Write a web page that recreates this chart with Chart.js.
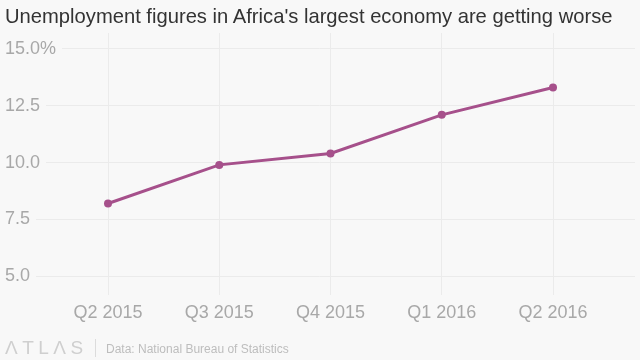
<!DOCTYPE html>
<html>
<head>
<meta charset="utf-8">
<script src="https://cdn.jsdelivr.net/npm/chart.js@4/dist/chart.umd.min.js"></script>
<style>
  html, body { margin: 0; padding: 0; background: #f8f8f8; }
  #wrap { position: relative; width: 640px; height: 360px; overflow: hidden; background: #f8f8f8; }
  #chartBox { position: absolute; left: 0; top: 0; width: 640px; height: 360px; }
  #title { position: absolute; left: 5px; top: 4px; font-family: "Liberation Sans", Arial, sans-serif; font-size: 20.2px; line-height: 24px; color: #333; white-space: nowrap; }
  #logo { position: absolute; left: 5px; top: 338px; font-family: "Liberation Sans", Arial, sans-serif; font-size: 19px; line-height: 20px; color: #cfcfcf; letter-spacing: 4.5px; white-space: nowrap; }
  #sep { position: absolute; left: 95px; top: 339px; width: 1px; height: 18px; background: #dcdcdc; }
  #source { position: absolute; left: 106px; top: 342px; font-family: "Liberation Sans", Arial, sans-serif; font-size: 12px; line-height: 14px; color: #bdbdbd; white-space: nowrap; }
</style>
</head>
<body>
<div id="wrap">
  <div id="chartBox"><canvas id="c"></canvas></div>
  <div id="title">Unemployment figures in Africa's largest economy are getting worse</div>
  <div id="logo">ΛTLΛS</div>
  <div id="sep"></div>
  <div id="source">Data: National Bureau of Statistics</div>
</div>
<script>
const categories = ["Q2 2015", "Q3 2015", "Q4 2015", "Q1 2016", "Q2 2016"];
const unemploymentRate = [8.2, 9.9, 10.4, 12.1, 13.3];
const yTickValues = [5, 7.5, 10, 12.5, 15];

const BG = '#f8f8f8';
const GRID = '#ebebeb';
const TICK = '#a8a8a8';
const LINE = '#a6508b';

new Chart(document.getElementById('c'), {
  type: 'line',
  data: {
    datasets: [{
      data: unemploymentRate.map((v, i) => ({ x: i, y: v })),
      borderColor: LINE,
      backgroundColor: LINE,
      borderWidth: 3,
      pointRadius: 4,
      pointHoverRadius: 4,
      pointBorderWidth: 0,
      pointBackgroundColor: LINE,
      tension: 0,
      fill: false
    }]
  },
  options: {
    responsive: true,
    maintainAspectRatio: false,
    animation: false,
    events: [],
    layout: { padding: { left: 0, right: 5, top: 33, bottom: 29 } },
    plugins: { legend: { display: false }, title: { display: false }, tooltip: { enabled: false } },
    scales: {
      x: {
        type: 'linear',
        min: -0.935,
        max: 4.737,
        afterBuildTicks: (s) => { s.ticks = categories.map((c, i) => ({ value: i })); },
        grid: { color: GRID, lineWidth: 1, drawTicks: false },
        border: { display: false },
        ticks: {
          padding: 7,
          maxRotation: 0,
          autoSkip: false,
          color: TICK,
          font: { family: '"Liberation Sans", Arial, sans-serif', size: 18 },
          callback: (v) => categories[v] !== undefined ? categories[v] : ''
        }
      },
      y: {
        type: 'linear',
        min: 4.16,
        max: 15.7,
        afterBuildTicks: (s) => { s.ticks = yTickValues.map(v => ({ value: v })); },
        afterFit: (s) => { s.width = 0; },
        grid: { color: GRID, lineWidth: 1, drawTicks: false },
        border: { display: false },
        ticks: {
          mirror: true,
          padding: 1,
          color: TICK,
          font: { family: '"Liberation Sans", Arial, sans-serif', size: 18 },
          showLabelBackdrop: true,
          backdropColor: BG,
          backdropPadding: { left: 6, right: 6, top: 1, bottom: 1 },
          callback: (v) => v === 15 ? v.toFixed(1) + '%' : v.toFixed(1)
        }
      }
    }
  }
});
</script>
</body>
</html>
